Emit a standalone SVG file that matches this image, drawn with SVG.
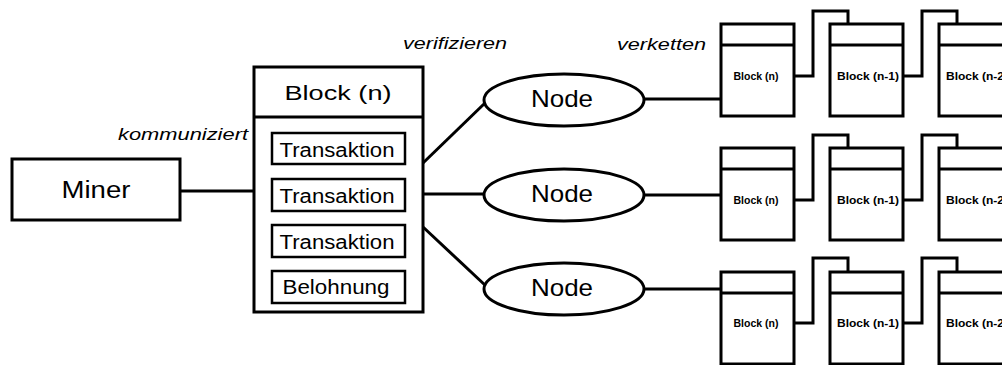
<svg xmlns="http://www.w3.org/2000/svg" width="1002" height="365" viewBox="0 0 1002 365">
  <style>
    .box { fill: #fff; stroke: #000; stroke-width: 3; }
    .inner { fill: #fff; stroke: #000; stroke-width: 2.5; }
    .wire { fill: none; stroke: #000; stroke-width: 3; stroke-linejoin: miter; }
    .t { font-family: "Liberation Sans", Arial, sans-serif; fill: #000; text-anchor: middle; }
    .lbl { font-family: "Liberation Sans", Arial, sans-serif; font-style: italic; fill: #000; font-size: 17px; }
    .sm { font-family: "Liberation Sans", Arial, sans-serif; font-weight: bold; font-size: 11px; fill: #000; text-anchor: middle; }
  </style>
  <defs>
    <!-- one chain block: header strip plus body -->
    <g id="cb">
      <rect class="box" x="0" y="0" width="73" height="92"/>
      <line class="wire" x1="0" y1="21" x2="73" y2="21"/>
    </g>
    <!-- hash link between two neighbouring blocks -->
    <path id="lnk" class="wire" d="M0,0 H19 V-65 H54 V-52"/>
  </defs>
  <rect width="1002" height="365" fill="#fff"/>

  <!-- labels -->
  <text class="lbl" x="118" y="140" textLength="130" lengthAdjust="spacingAndGlyphs">kommuniziert</text>
  <text class="lbl" x="403" y="49" textLength="104" lengthAdjust="spacingAndGlyphs">verifizieren</text>
  <text class="lbl" x="617" y="50" textLength="89" lengthAdjust="spacingAndGlyphs">verketten</text>

  <!-- connectors -->
  <g id="connectors">
    <line class="wire" x1="180" y1="191" x2="254" y2="191"/>
    <line class="wire" x1="423" y1="163" x2="485" y2="103"/>
    <line class="wire" x1="423" y1="194" x2="484" y2="194"/>
    <line class="wire" x1="423" y1="227" x2="486" y2="286"/>
    <line class="wire" x1="644" y1="99" x2="721" y2="99"/>
    <line class="wire" x1="644" y1="195" x2="721" y2="195"/>
    <line class="wire" x1="644" y1="289" x2="721" y2="289"/>
    <use href="#lnk" x="794" y="76"/>
    <use href="#lnk" x="903" y="76"/>
    <use href="#lnk" x="794" y="200"/>
    <use href="#lnk" x="903" y="200"/>
    <use href="#lnk" x="794" y="323"/>
    <use href="#lnk" x="903" y="323"/>
  </g>

  <!-- miner -->
  <g id="miner">
    <rect class="box" x="12" y="159" width="168" height="61"/>
    <text class="t" x="96" y="198" font-size="23" textLength="69" lengthAdjust="spacingAndGlyphs">Miner</text>
  </g>

  <!-- candidate block with its contents -->
  <g id="block-n">
    <rect class="box" x="254" y="67" width="169" height="245"/>
    <line class="wire" x1="254" y1="117" x2="423" y2="117"/>
    <text class="t" x="338" y="100" font-size="21" textLength="107" lengthAdjust="spacingAndGlyphs">Block (n)</text>
  </g>
  <g id="tx1">
    <rect class="inner" x="272" y="133" width="133" height="31"/>
    <text class="t" x="337" y="157" font-size="20" textLength="115" lengthAdjust="spacingAndGlyphs">Transaktion</text>
  </g>
  <g id="tx2">
    <rect class="inner" x="272" y="179" width="133" height="32"/>
    <text class="t" x="337" y="203" font-size="20" textLength="115" lengthAdjust="spacingAndGlyphs">Transaktion</text>
  </g>
  <g id="tx3">
    <rect class="inner" x="272" y="225" width="133" height="32"/>
    <text class="t" x="337" y="249" font-size="20" textLength="115" lengthAdjust="spacingAndGlyphs">Transaktion</text>
  </g>
  <g id="reward">
    <rect class="inner" x="272" y="271" width="133" height="32"/>
    <text class="t" x="336" y="294" font-size="20" textLength="107" lengthAdjust="spacingAndGlyphs">Belohnung</text>
  </g>

  <!-- verifying nodes -->
  <g id="node1">
    <ellipse class="box" cx="564" cy="100" rx="80" ry="26"/>
    <text class="t" x="562" y="107" font-size="24" textLength="62" lengthAdjust="spacingAndGlyphs">Node</text>
  </g>
  <g id="node2">
    <ellipse class="box" cx="564" cy="195" rx="80" ry="26"/>
    <text class="t" x="562" y="202" font-size="24" textLength="62" lengthAdjust="spacingAndGlyphs">Node</text>
  </g>
  <g id="node3">
    <ellipse class="box" cx="564" cy="289" rx="80" ry="26"/>
    <text class="t" x="562" y="296" font-size="24" textLength="62" lengthAdjust="spacingAndGlyphs">Node</text>
  </g>

  <!-- chain 1 -->
  <g id="chain1-b0"><use href="#cb" x="721" y="24"/><text class="sm" x="756" y="80" textLength="45" lengthAdjust="spacingAndGlyphs">Block (n)</text></g>
  <g id="chain1-b1"><use href="#cb" x="830" y="24"/><text class="sm" x="868" y="80" textLength="62" lengthAdjust="spacingAndGlyphs">Block (n-1)</text></g>
  <g id="chain1-b2"><use href="#cb" x="939" y="24"/><text class="sm" x="977" y="80" textLength="62" lengthAdjust="spacingAndGlyphs">Block (n-2)</text></g>

  <!-- chain 2 -->
  <g id="chain2-b0"><use href="#cb" x="721" y="148"/><text class="sm" x="756" y="204" textLength="45" lengthAdjust="spacingAndGlyphs">Block (n)</text></g>
  <g id="chain2-b1"><use href="#cb" x="830" y="148"/><text class="sm" x="868" y="204" textLength="62" lengthAdjust="spacingAndGlyphs">Block (n-1)</text></g>
  <g id="chain2-b2"><use href="#cb" x="939" y="148"/><text class="sm" x="977" y="204" textLength="62" lengthAdjust="spacingAndGlyphs">Block (n-2)</text></g>

  <!-- chain 3 -->
  <g id="chain3-b0"><use href="#cb" x="721" y="272"/><text class="sm" x="756" y="327" textLength="45" lengthAdjust="spacingAndGlyphs">Block (n)</text></g>
  <g id="chain3-b1"><use href="#cb" x="830" y="272"/><text class="sm" x="868" y="327" textLength="62" lengthAdjust="spacingAndGlyphs">Block (n-1)</text></g>
  <g id="chain3-b2"><use href="#cb" x="939" y="272"/><text class="sm" x="977" y="327" textLength="62" lengthAdjust="spacingAndGlyphs">Block (n-2)</text></g>
</svg>
